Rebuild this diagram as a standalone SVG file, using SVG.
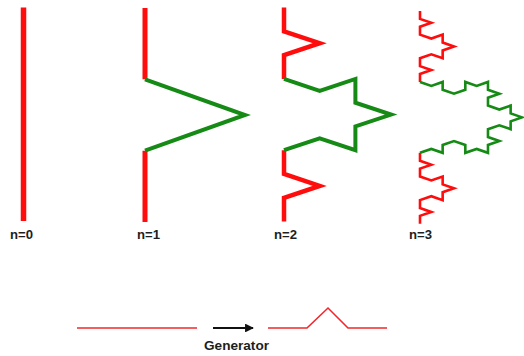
<svg xmlns="http://www.w3.org/2000/svg" width="524" height="356" viewBox="0 0 524 356">
  <style>
    .red { fill: none; stroke: #ff0d0d; stroke-linejoin: miter; }
    .grn { fill: none; stroke: #158a15; stroke-linejoin: miter; }
    .fine { vector-effect: non-scaling-stroke; stroke-width: 2.6; }
    .lbl { font-family: "Liberation Sans", Arial, sans-serif; font-size: 12px; font-weight: bold; fill: #1e1e1e; }
  </style>
  <defs>
    <marker id="arrowHead" viewBox="0 0 10 10" refX="9" refY="5" markerWidth="4" markerHeight="4" orient="auto" markerUnits="strokeWidth">
      <path d="M0 0 L10 5 L0 10 Z" fill="#111"/>
    </marker>
  </defs>

  <!-- generation 0: a single segment -->
  <g id="koch-n0">
    <line class="red" x1="23.5" y1="7.5" x2="23.5" y2="221" stroke-width="5.5"/>
    <text class="lbl" x="10" y="239" textLength="23" lengthAdjust="spacingAndGlyphs">n=0</text>
  </g>

  <!-- generation 1 -->
  <g id="koch-n1">
    <path class="red" d="M145 8 V79.3 M145 150.7 V222" stroke-width="5"/>
    <path class="grn" d="M145 79.3 L245 115 L145 150.7" stroke-width="4"/>
    <text class="lbl" x="137" y="239" textLength="23" lengthAdjust="spacingAndGlyphs">n=1</text>
  </g>

  <!-- generation 2 -->
  <g id="koch-n2">
    <path class="red" d="M284 7.5 V31.3 L319.7 43.2 L284 55.1 V78.9 M284 150.2 V174 L319.7 185.9 L284 197.8 V221.5" stroke-width="4.5"/>
    <path class="grn" d="M284 78.9 L319.7 90.8 L355.4 78.9 V102.7 L391.1 114.6 L355.4 126.4 V150.2 L319.7 138.3 L284 150.2" stroke-width="4"/>
    <text class="lbl" x="274" y="239" textLength="23" lengthAdjust="spacingAndGlyphs">n=2</text>
  </g>

  <!-- generation 3, drawn on a unit lattice and scaled into place -->
  <g id="koch-n3">
    <g transform="translate(420 11) scale(11.33 3.94)">
      <path class="red fine" d="M0 0 l0 2 1 1 -1 1 0 2  1 1 1 -1 0 2 1 1  -1 1 0 2 -1 -1 -1 1  0 2 1 1 -1 1 0 2
                                M0 36 l0 2 1 1 -1 1 0 2  1 1 1 -1 0 2 1 1  -1 1 0 2 -1 -1 -1 1  0 2 1 1 -1 1 0 2"/>
      <path class="grn fine" d="M0 18 l1 1 1 -1 0 2 1 1  1 -1 0 -2 1 1 1 -1  0 2 1 1 -1 1 0 2  1 1 1 -1 0 2 1 1
                                -1 1 0 2 -1 -1 -1 1  0 2 1 1 -1 1 0 2  -1 -1 -1 1 0 -2 -1 -1  -1 1 0 2 -1 -1 -1 1"/>
    </g>
    <text class="lbl" x="409" y="239" textLength="23" lengthAdjust="spacingAndGlyphs">n=3</text>
  </g>

  <!-- initiator, arrow and generator -->
  <g id="initiator">
    <line x1="77" y1="328" x2="197" y2="328" stroke="#f0282d" stroke-width="1.6"/>
  </g>
  <g id="connectors">
    <line x1="213" y1="328" x2="253" y2="328" stroke="#111" stroke-width="2.2" marker-end="url(#arrowHead)"/>
  </g>
  <g id="generator">
    <polyline points="268,328 307,328 328,308 348,328 387,328" fill="none" stroke="#f0282d" stroke-width="1.6"/>
    <text class="lbl" x="204" y="350" textLength="65" lengthAdjust="spacingAndGlyphs">Generator</text>
  </g>
</svg>
